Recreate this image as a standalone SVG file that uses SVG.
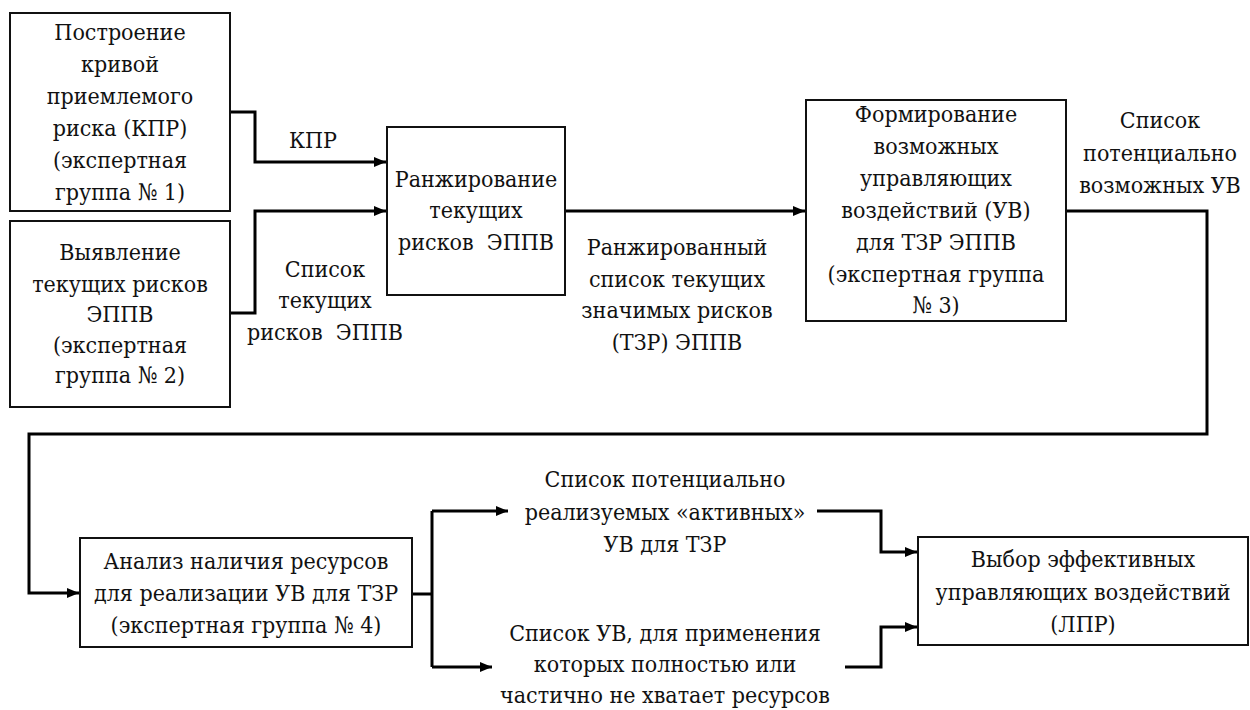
<svg xmlns="http://www.w3.org/2000/svg" width="1250" height="710" viewBox="0 0 1250 710">
<defs>
<style>
.box{fill:#fff;stroke:#111;stroke-width:2}
text{font-family:'DejaVu Serif Condensed','DejaVu Serif',serif;font-size:23px;fill:#111;text-anchor:middle}
.c{fill:none;stroke:#000;stroke-width:3}
</style>
<marker id="ah" viewBox="0 0 12 10" refX="12" refY="5" markerWidth="12" markerHeight="10" markerUnits="userSpaceOnUse" orient="auto">
<path d="M0,0 L12,5 L0,10 Z" fill="#000"/>
</marker>
</defs>
<rect width="1250" height="710" fill="#fff"/>

<g id="connectors">
<path class="c" d="M230,112 H255 V162 H386" marker-end="url(#ah)"/>
<path class="c" d="M230,313 H255 V211 H386" marker-end="url(#ah)"/>
<path class="c" d="M565,211 H805" marker-end="url(#ah)"/>
<path class="c" d="M1066,211 H1207 V434 H29 V593 H79" marker-end="url(#ah)"/>
<path class="c" d="M412,594 H432"/>
<path class="c" d="M432,511 V667"/>
<path class="c" d="M432,511 H508" marker-end="url(#ah)"/>
<path class="c" d="M432,667 H492" marker-end="url(#ah)"/>
<path class="c" d="M817,511 H881 V552 H917" marker-end="url(#ah)"/>
<path class="c" d="M845,667 H881 V627 H917" marker-end="url(#ah)"/>
</g>

<g id="labels">
<text x="313" y="148">КПР</text>
<text x="325" y="277">Список</text>
<text x="325" y="308">текущих</text>
<text x="325" y="340" xml:space="preserve">рисков  ЭППВ</text>
<text x="677" y="255">Ранжированный</text>
<text x="677" y="287">список текущих</text>
<text x="677" y="318">значимых рисков</text>
<text x="677" y="350">(ТЗР) ЭППВ</text>
<text x="1160" y="128">Список</text>
<text x="1160" y="161">потенциально</text>
<text x="1160" y="193">возможных УВ</text>
<text x="665" y="487">Список потенциально</text>
<text x="665" y="520">реализуемых «активных»</text>
<text x="665" y="552">УВ для ТЗР</text>
<text x="665" y="641">Список УВ, для применения</text>
<text x="665" y="672">которых полностью или</text>
<text x="665" y="703">частично не хватает ресурсов</text>
</g>

<g id="n1">
<rect class="box" x="10" y="13" width="220" height="198"/>
<text x="120" y="40">Построение</text>
<text x="120" y="72">кривой</text>
<text x="120" y="104">приемлемого</text>
<text x="120" y="136">риска (КПР)</text>
<text x="120" y="168">(экспертная</text>
<text x="120" y="200">группа № 1)</text>
</g>

<g id="n2">
<rect class="box" x="10" y="221" width="220" height="186"/>
<text x="120" y="260">Выявление</text>
<text x="120" y="292">текущих рисков</text>
<text x="120" y="322">ЭППВ</text>
<text x="120" y="353">(экспертная</text>
<text x="120" y="383">группа № 2)</text>
</g>

<g id="n3">
<rect class="box" x="387" y="127" width="178" height="168"/>
<text x="476" y="187">Ранжирование</text>
<text x="476" y="218">текущих</text>
<text x="476" y="250" xml:space="preserve">рисков  ЭППВ</text>
</g>

<g id="n4">
<rect class="box" x="806" y="100" width="260" height="221"/>
<text x="936" y="122">Формирование</text>
<text x="936" y="154">возможных</text>
<text x="936" y="186">управляющих</text>
<text x="936" y="218">воздействий (УВ)</text>
<text x="936" y="250">для ТЗР ЭППВ</text>
<text x="936" y="282">(экспертная группа</text>
<text x="936" y="313">№ 3)</text>
</g>

<g id="n5">
<rect class="box" x="80" y="538" width="332" height="109"/>
<text x="246" y="569">Анализ наличия ресурсов</text>
<text x="246" y="601">для реализации УВ для ТЗР</text>
<text x="246" y="633">(экспертная группа № 4)</text>
</g>

<g id="n6">
<rect class="box" x="918" y="537" width="330" height="108"/>
<text x="1083" y="567">Выбор эффективных</text>
<text x="1083" y="600">управляющих воздействий</text>
<text x="1083" y="632">(ЛПР)</text>
</g>
</svg>
